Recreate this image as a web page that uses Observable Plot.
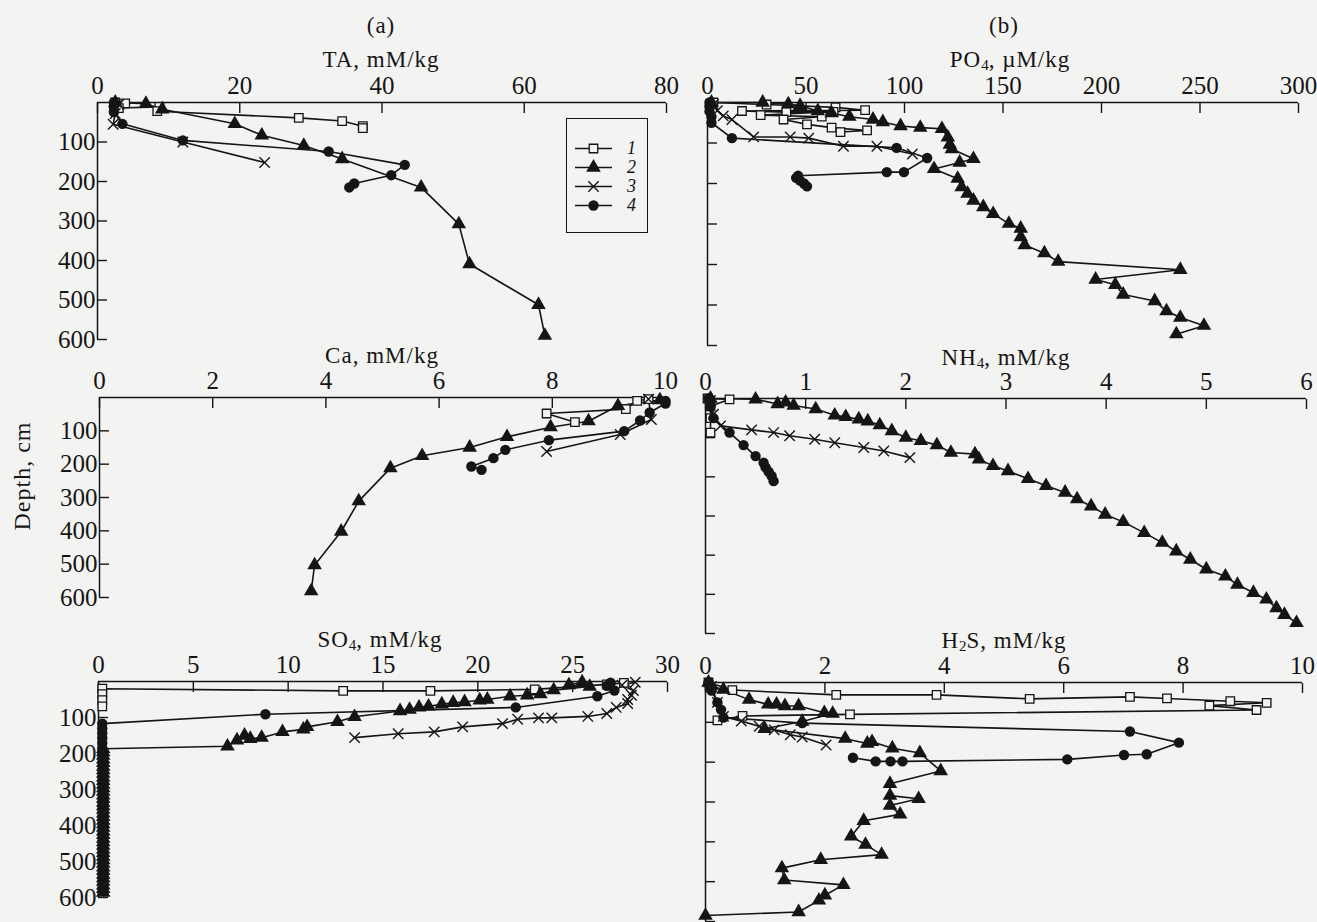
<!DOCTYPE html>
<html><head><meta charset="utf-8">
<script src="https://cdn.jsdelivr.net/npm/d3@7"></script>
<script src="https://cdn.jsdelivr.net/npm/@observablehq/plot@0.6"></script>
<style>
body{margin:0;background:#f3f3f1;}
#root{position:relative;width:1317px;height:922px;overflow:hidden;font-family:"Liberation Serif","Times New Roman",serif;color:#151515;}
.lbl{position:absolute;font-size:23px;letter-spacing:1px;white-space:nowrap;transform:translate(-50%,-50%);line-height:1;}
.lbl sub{font-size:15px;vertical-align:-3px;line-height:0;letter-spacing:0;}
.ylab{position:absolute;font-size:24px;letter-spacing:1px;white-space:nowrap;transform:translate(-50%,-50%) rotate(-90deg);line-height:1;}
#legendBox{position:absolute;left:566px;top:118px;width:80px;height:113px;border:1.5px solid #151515;}
</style></head>
<body><div id="root"></div>
<script>
const seriesNames = ["1", "2", "3", "4"];
const depthTicks = [100, 200, 300, 400, 500, 600];

// ---- TA, mM/kg  ([value, depth cm]) ----
const TA_1 = [[2.5,0],[3.9,2],[3,14],[8.7,11],[8.4,22],[28.3,39],[34.4,47],[37.3,60],[37.3,65]];
const TA_2 = [[2.5,0],[6.8,3],[9.1,17],[19.3,54],[23.1,83],[29,109],[34.4,143],[45.5,215],[50.8,308],[52.3,409],[62,512],[62.9,590]];
const TA_3 = [[3,5],[2.5,28],[2.2,55],[12,100],[23.5,152]];
const TA_4 = [[2.3,0],[2.3,11],[2.3,24],[3.5,54],[12,96],[32.5,124],[43.2,158],[41.3,184],[36.1,205],[35.4,215]];
const xTicksTA = [0, 20, 40, 60, 80];

// ---- PO4, µM/kg ----
const PO4_1 = [[3,0],[30,5],[65,12],[80,19],[17.5,21],[40,24],[64,23],[27,31],[58,35],[38.6,42],[50.5,54],[63,62],[81,69],[67.5,73]];
const PO4_2 = [[2,0],[28,0],[41,4],[47,8],[56,21],[63,26],[72,35],[84,42],[89,48],[98,58],[108,62],[119,65],[122,86],[123,104],[124,115],[135,139],[128,148],[115,164],[127,188],[129,209],[132,225],[135,242],[140,258],[145,275],[153,299],[159,311],[159,332],[161,352],[171,372],[178,393],[240,413],[197,437],[207,450],[211,474],[227,490],[233,515],[240,531],[252,551],[238,572]];
const PO4_3 = [[3,5],[5,20],[8,33],[12.4,42],[23.4,85],[42,85],[51.4,88],[69,108],[86,108],[104,127]];
const PO4_4 = [[1,0],[1,10],[1,22],[2,35],[2,50],[12.4,88],[96,112],[111.5,137],[99.7,172],[91,172],[46,181],[45,186],[47,193],[49,200],[50.5,207]];
const xTicksPO4 = [0, 50, 100, 150, 200, 250, 300];

// ---- Ca, mM/kg ----
const Ca_1 = [[9.7,5],[9.5,10],[9.3,35],[7.9,48],[8.4,74]];
const Ca_2 = [[9.9,8],[9.16,25],[8.64,71],[7.97,89],[7.2,118],[6.54,150],[5.7,175],[5.14,212],[4.58,311],[4.27,402],[3.8,503],[3.74,581]];
const Ca_3 = [[9.7,5],[9.75,66],[9.2,111],[7.9,162]];
const Ca_4 = [[10,10],[10,18],[9.72,45],[9.55,69],[9.27,101],[7.94,128],[7.17,157],[6.96,182],[6.57,207],[6.75,217]];
const xTicksCa = [0, 2, 4, 6, 8, 10];

// ---- NH4, mM/kg ----
const NH4_1 = [[0.02,0],[0.24,2],[0.05,20],[0.05,50],[0.05,87]];
const NH4_2 = [[0.05,0],[0.5,2],[0.72,14],[0.8,10],[0.88,18],[1.1,27],[1.29,43],[1.4,47],[1.53,53],[1.62,58],[1.74,68],[1.86,83],[2.0,100],[2.15,108],[2.31,119],[2.45,138],[2.69,142],[2.73,155],[2.87,172],[3.02,185],[3.22,205],[3.4,223],[3.59,240],[3.71,257],[3.85,275],[3.99,296],[4.17,315],[4.38,343],[4.56,368],[4.7,390],[4.84,411],[5.0,436],[5.19,454],[5.31,475],[5.47,496],[5.6,513],[5.7,535],[5.78,552],[5.9,573]];
const NH4_3 = [[0.05,5],[0.08,40],[0.15,70],[0.46,80],[0.68,87],[0.84,95],[1.09,104],[1.29,113],[1.58,125],[1.78,134],[2.04,151]];
const NH4_4 = [[0.03,0],[0.05,20],[0.08,50],[0.24,87],[0.38,119],[0.5,147],[0.58,164],[0.6,176],[0.63,187],[0.66,198],[0.68,211]];
const xTicksNH4 = [0, 1, 2, 3, 4, 5, 6];

// ---- SO4, mM/kg ----
const SO4_1 = [[27.7,4],[26.8,8],[23,22],[17.5,26],[12.9,26],[0.2,20],[0.2,35],[0.2,52],[0.2,69]];
const SO4_2 = [[25.5,2],[24.8,10],[25.9,14],[24,24],[23.3,35],[22.6,38],[21.7,41],[20.5,50],[20.1,52],[19.3,57],[18.7,59],[18.1,63],[17.4,69],[16.9,72],[16.4,78],[15.9,82],[13.5,98],[12.6,112],[11,126],[10.8,133],[9.7,140],[8.6,156],[8,159],[7.7,150],[7.3,163],[6.8,180],[0.25,187],[0.25,196],[0.25,206],[0.25,216],[0.25,226],[0.25,236],[0.25,246],[0.25,256],[0.25,266],[0.25,276],[0.25,286],[0.25,296],[0.25,306],[0.25,316],[0.25,326],[0.25,336],[0.25,346],[0.25,356],[0.25,366],[0.25,376],[0.25,386],[0.25,396],[0.25,406],[0.25,416],[0.25,426],[0.25,436],[0.25,446],[0.25,456],[0.25,466],[0.25,476],[0.25,486],[0.25,496],[0.25,506],[0.25,516],[0.25,526],[0.25,536],[0.25,546],[0.25,556],[0.25,566],[0.25,576],[0.25,586]];
const SO4_3 = [[28.3,2],[27.6,10],[28.2,25],[28.1,38],[27.9,50],[27.9,61],[27.3,72],[26.8,89],[25.8,97],[23.9,101],[23.2,101],[22.1,105],[21.3,117],[19.2,126],[17.7,140],[15.8,145],[13.5,156]];
const SO4_4 = [[27,3],[26.8,12],[27.2,25],[26.3,41],[22,72],[8.8,91],[0.2,117],[0.2,130],[0.2,143],[0.2,157],[0.2,171],[0.2,185],[0.2,198]];
const xTicksSO4 = [0, 5, 10, 15, 20, 25, 30];

// ---- H2S, mM/kg ----
const H2S_1 = [[0.05,0],[0.45,19],[2.19,31],[3.87,31],[5.43,41],[7.11,36],[7.73,40],[8.79,47],[9.4,51],[8.44,58],[9.23,69],[2.42,80],[0.62,84],[0.2,95]];
const H2S_2 = [[0.05,0],[0.1,8],[0.3,18],[0.73,43],[1.05,55],[1.19,55],[1.33,59],[1.56,59],[1.99,76],[2.13,78],[1.62,98],[0.99,116],[2.34,141],[2.71,153],[2.79,149],[3.13,165],[3.59,177],[3.94,222],[3.09,254],[3.09,284],[3.57,292],[3.09,309],[3.26,331],[2.65,347],[2.44,386],[2.68,407],[2.95,432],[1.93,445],[1.28,466],[1.32,496],[2.31,508],[2.0,534],[1.9,547],[1.56,576],[0,585]];
const H2S_3 = [[0.1,10],[0.2,50],[0.3,85],[0.6,97],[0.9,110],[1.15,119],[1.42,131],[1.62,137],[2.02,157]];
const H2S_4 = [[0.05,0],[0.1,20],[0.2,50],[0.26,68],[0.3,88],[1.62,102],[7.11,123],[7.93,151],[7.39,180],[7.01,182],[6.06,193],[3.3,198],[3.1,198],[2.85,198],[2.47,189]];
const xTicksH2S = [0, 2, 4, 6, 8, 10];

const INK = "#151515", PAPER = "#f3f3f1";
const FONT = "Liberation Serif, Times New Roman, serif";
const TICK_FONT = 25;
const symbolStyles = [
  {symbol: "square", r: 4.8, fill: PAPER, stroke: INK, strokeWidth: 1.3},
  {symbol: "triangle", r: 5.4, fill: INK, stroke: "none"},
  {symbol: "times", r: 4.8, fill: "none", stroke: INK, strokeWidth: 1.4},
  {symbol: "circle", r: 5.2, fill: INK, stroke: "none"}
];

function seriesMarks(sets) {
  const marks = [];
  sets.forEach((s) => {
    marks.push(Plot.line(s, {x: d => d[0], y: d => d[1], stroke: INK, strokeWidth: 1.6, curve: "linear"}));
  });
  sets.forEach((s, i) => {
    marks.push(Plot.dot(s, {x: d => d[0], y: d => d[1], ...symbolStyles[i]}));
  });
  return marks;
}

const root = document.getElementById("root");

function panel(p) {
  const W = p.right - p.left, H = p.bottom - p.top;
  const chart = Plot.plot({
    width: W, height: H,
    marginLeft: p.x0 - p.left, marginRight: p.right - p.x1,
    marginTop: p.y0 - p.top, marginBottom: p.bottom - p.y1,
    style: {background: "transparent", fontFamily: FONT, fontSize: TICK_FONT + "px", color: INK, overflow: "visible"},
    x: {domain: p.xDomain},
    y: {domain: [0, 600], reverse: true},
    marks: [
      Plot.ruleY([0], {stroke: INK, strokeWidth: 1.5}),
      Plot.ruleX([0], {stroke: INK, strokeWidth: 1.5}),
      Plot.axisX(p.xTicks, {anchor: "top", tickSize: -10, tickPadding: 19, label: null, stroke: INK, strokeWidth: 1.4, fill: INK, fontSize: TICK_FONT}),
      Plot.axisY(depthTicks, {anchor: "left", tickSize: -10, tickPadding: 12, label: null, stroke: INK, strokeWidth: 1.4, fill: INK, fontSize: TICK_FONT,
        tickFormat: p.yLabels ? (d => String(d)) : (() => "")}),
      ...seriesMarks(p.sets)
    ]
  });
  chart.style.position = "absolute";
  chart.style.left = p.left + "px";
  chart.style.top = p.top + "px";
  root.appendChild(chart);
}

panel({sets: [TA_1, TA_2, TA_3, TA_4], xDomain: [0, 80], xTicks: xTicksTA, yLabels: true,
  left: 0, right: 680, top: 60, bottom: 360, x0: 97, x1: 666, y0: 102, y1: 339});
panel({sets: [PO4_1, PO4_2, PO4_3, PO4_4], xDomain: [0, 300], xTicks: xTicksPO4, yLabels: false,
  left: 680, right: 1317, top: 60, bottom: 360, x0: 707, x1: 1298, y0: 102, y1: 345});
panel({sets: [Ca_1, Ca_2, Ca_3, Ca_4], xDomain: [0, 10], xTicks: xTicksCa, yLabels: true,
  left: 0, right: 680, top: 362, bottom: 640, x0: 99, x1: 665, y0: 397, y1: 597});
panel({sets: [NH4_1, NH4_2, NH4_3, NH4_4], xDomain: [0, 6], xTicks: xTicksNH4, yLabels: false,
  left: 680, right: 1317, top: 362, bottom: 640, x0: 705, x1: 1306, y0: 398, y1: 633});
panel({sets: [SO4_1, SO4_2, SO4_3, SO4_4], xDomain: [0, 30], xTicks: xTicksSO4, yLabels: true,
  left: 0, right: 680, top: 645, bottom: 922, x0: 98, x1: 667, y0: 681, y1: 897});
panel({sets: [H2S_1, H2S_2, H2S_3, H2S_4], xDomain: [0, 10], xTicks: xTicksH2S, yLabels: false,
  left: 680, right: 1317, top: 645, bottom: 922, x0: 705, x1: 1302, y0: 682, y1: 921});

// ---- text labels ----
const labels = [
  ["(a)", 381, 25], ["(b)", 1004, 25],
  ["TA, mM/kg", 381, 59], ["PO<sub>4</sub>, µM/kg", 1010, 59],
  ["Ca, mM/kg", 382, 355], ["NH<sub>4</sub>, mM/kg", 1006, 357],
  ["SO<sub>4</sub>, mM/kg", 380, 639], ["H<sub>2</sub>S, mM/kg", 1004, 640]
];
labels.forEach(([t, x, y]) => {
  const d = document.createElement("div");
  d.className = "lbl"; d.innerHTML = t;
  d.style.left = x + "px"; d.style.top = y + "px";
  root.appendChild(d);
});
const yl = document.createElement("div");
yl.className = "ylab"; yl.textContent = "Depth, cm";
yl.style.left = "22px"; yl.style.top = "476px";
root.appendChild(yl);

// ---- legend ----
const box = document.createElement("div");
box.id = "legendBox";
root.appendChild(box);
const legendMarks = [];
seriesNames.forEach((name, i) => {
  legendMarks.push(Plot.ruleY([name], {y: d => d, x1: 8, x2: 45, stroke: INK, strokeWidth: 1.6}));
  legendMarks.push(Plot.dot([name], {y: d => d, x: 26, ...symbolStyles[i]}));
});
legendMarks.push(Plot.text(seriesNames, {y: d => d, x: 64, text: d => d, fontStyle: "italic", fontSize: 18, fill: INK}));
const legend = Plot.plot({
  width: 80, height: 113, margin: 0,
  style: {background: "transparent", fontFamily: FONT, overflow: "visible"},
  x: {domain: [0, 80], range: [0, 80], axis: null},
  y: {type: "point", domain: seriesNames, range: [18, 97], axis: null},
  marks: legendMarks
});
legend.style.position = "absolute"; legend.style.left = "0px"; legend.style.top = "0px";
box.appendChild(legend);
</script>
</body></html>
